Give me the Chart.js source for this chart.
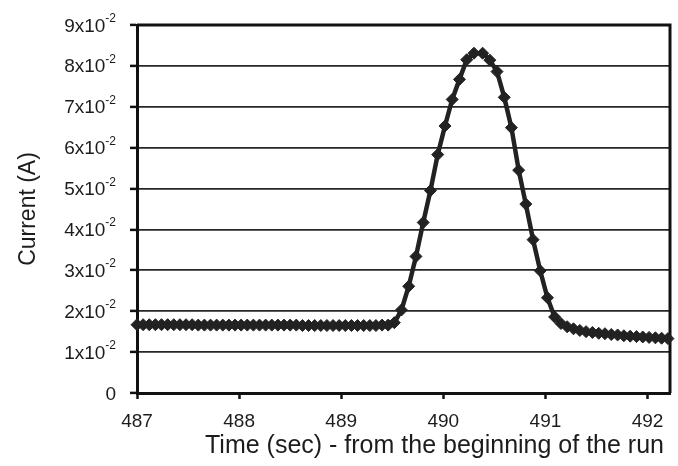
<!DOCTYPE html>
<html><head><meta charset="utf-8">
<script src="https://cdn.jsdelivr.net/npm/chart.js@4"></script>
<style>html,body{margin:0;padding:0;background:#fff}#wrap{width:678px;height:466px;position:relative;background:#fff}</style>
</head><body><div id="wrap"><canvas id="c" width="678" height="466"></canvas></div>
<script>
// Baseline before the peak
const baseTimes = [487.00,487.06,487.12,487.18,487.24,487.30,487.36,487.42,487.48,487.54,487.60,487.66,487.72,487.78,487.84,487.90,487.96,488.02,488.08,488.14,488.20,488.26,488.32,488.38,488.44,488.50,488.56,488.62,488.68,488.74,488.80,488.86,488.92,488.98,489.04,489.10,489.16,489.22,489.28,489.34,489.40,489.46,489.52];
const baseCurrents = [0.0167,0.0167,0.0167,0.0167,0.0167,0.0167,0.0167,0.0167,0.0167,0.0167,0.0166,0.0166,0.0166,0.0166,0.0166,0.0166,0.0166,0.0166,0.0166,0.0166,0.0166,0.0166,0.0166,0.0166,0.0166,0.0166,0.0166,0.0165,0.0165,0.0165,0.0165,0.0165,0.0165,0.0165,0.0165,0.0165,0.0165,0.0165,0.0165,0.0165,0.0166,0.0166,0.0172];
// Peak
const peakTimes = [489.590,489.661,489.732,489.803,489.874,489.945,490.016,490.087,490.158,490.229,490.300,490.385,490.456,490.526,490.597,490.667,490.738,490.808,490.879,490.949,491.020,491.090];
const peakCurrents = [0.0203,0.0261,0.0334,0.0417,0.0495,0.0583,0.0653,0.0718,0.0767,0.0815,0.0831,0.0831,0.0814,0.0786,0.0723,0.0649,0.0545,0.0462,0.0375,0.0299,0.0233,0.0186];
// Tail after the peak
const tailTimes = [491.152,491.213,491.275,491.337,491.398,491.460,491.522,491.583,491.645,491.707,491.768,491.830,491.892,491.953,492.015,492.077,492.138,492.200];
const tailCurrents = [0.0170,0.0162,0.0157,0.0153,0.0150,0.0148,0.0146,0.0145,0.0143,0.0142,0.0140,0.0139,0.0138,0.0137,0.0136,0.0135,0.0134,0.0133];

const xTickLabels = ['487','488','489','490','491','492'];
const yTickValues = [0,0.01,0.02,0.03,0.04,0.05,0.06,0.07,0.08,0.09];
const yTickBase = ['0','1x10','2x10','3x10','4x10','5x10','6x10','7x10','8x10','9x10'];
const yTickExp = ['','-2','-2','-2','-2','-2','-2','-2','-2','-2'];
const xTitle = 'Time (sec) - from the beginning of the run';
const yTitle = 'Current (A)';

const times = baseTimes.concat(peakTimes, tailTimes);
const currents = baseCurrents.concat(peakCurrents, tailCurrents);
const points = times.map((t, i) => ({x: t, y: currents[i]}));

const FONT = '"Liberation Sans", Arial, sans-serif';
const INK = '#1c1c1c';

const textPlugin = {
  id: 'texts',
  afterDraw(chart) {
    const ctx = chart.ctx, s = chart.scales.y;
    ctx.save();
    ctx.fillStyle = INK;
    ctx.textBaseline = 'alphabetic';
    const xr = 116;
    yTickValues.forEach((v, i) => {
      const y = s.getPixelForValue(v);
      let expW = 0;
      if (yTickExp[i]) {
        ctx.font = '12px ' + FONT;
        expW = ctx.measureText(yTickExp[i]).width;
        ctx.textAlign = 'left';
        ctx.fillText(yTickExp[i], xr - expW, y - 3);
      }
      ctx.font = '19px ' + FONT;
      ctx.textAlign = 'right';
      ctx.fillText(yTickBase[i], xr - expW, y + 6.5);
    });
    // x axis title
    ctx.font = '25px ' + FONT;
    ctx.textAlign = 'right';
    ctx.textBaseline = 'middle';
    ctx.fillText(xTitle, 664, 446);
    ctx.restore();
  }
};

const boxPlugin = {
  id: 'box',
  beforeDatasetsDraw(chart) {
    const {ctx, chartArea: a} = chart;
    ctx.save();
    ctx.strokeStyle = '#111';
    ctx.lineWidth = 3;
    ctx.beginPath();
    ctx.moveTo(a.left, a.top);
    ctx.lineTo(a.right, a.top);
    ctx.lineTo(a.right, a.bottom);
    ctx.stroke();
    ctx.restore();
  }
};

new Chart(document.getElementById('c'), {
  type: 'line',
  data: {
    datasets: [{
      data: points,
      borderColor: '#222',
      borderWidth: 4.5,
      pointStyle: 'rectRot',
      pointRadius: 6,
      pointBackgroundColor: '#222',
      pointBorderColor: '#222',
      pointBorderWidth: 1,
      tension: 0,
      clip: false
    }]
  },
  options: {
    responsive: false,
    devicePixelRatio: 1,
    animation: false,
    layout: { padding: { top: 25, right: 8, left: 0, bottom: 0 }, autoPadding: false },
    plugins: { legend: { display: false }, tooltip: { enabled: false } },
    scales: {
      x: {
        type: 'linear',
        min: 487,
        max: 492.22,
        afterBuildTicks(scale) { scale.ticks = xTickLabels.map(l => ({value: Number(l)})); },
        afterFit(scale) { scale.height = 73; },
        ticks: {
          includeBounds: false,
          autoSkip: false,
          maxRotation: 0,
          padding: 11,
          color: INK,
          font: { family: FONT, size: 19 },
          callback: (v, i) => xTickLabels[i]
        },
        grid: { drawOnChartArea: false, drawTicks: true, tickLength: 6, tickWidth: 2.5, tickColor: '#111' },
        border: { display: true, color: '#111', width: 3 },
        title: { display: false }
      },
      y: {
        min: 0,
        max: 0.09,
        afterBuildTicks(scale) { scale.ticks = yTickValues.map(v => ({value: v})); },
        afterFit(scale) { scale.width = 137; },
        ticks: { display: false },
        grid: { color: '#262626', lineWidth: 1.8, drawTicks: true, tickLength: 7, tickWidth: 2.5, tickColor: '#111' },
        border: { display: true, color: '#111', width: 3 },
        title: { display: true, text: yTitle, color: INK, font: { family: FONT, size: 23 }, padding: { top: 15, bottom: 0 } }
      }
    }
  },
  plugins: [textPlugin, boxPlugin]
});
</script>
</body></html>
